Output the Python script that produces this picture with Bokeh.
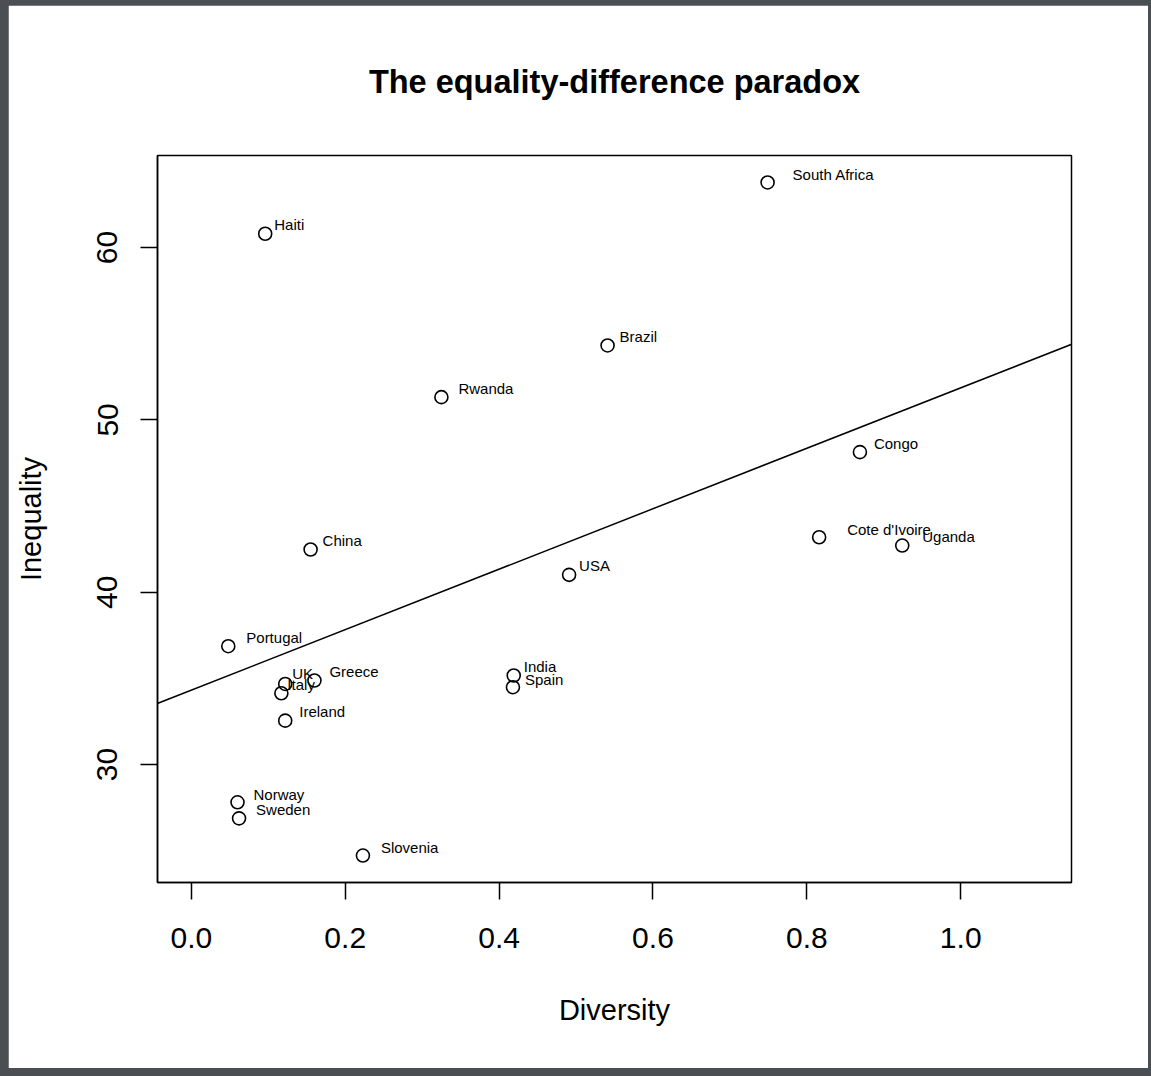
import numpy as np
from bokeh.plotting import figure
from bokeh.models import (ColumnDataSource, FixedTicker, PrintfTickFormatter,
                          Slope, Title)
from bokeh.core.properties import value
from bokeh.embed import file_html
from bokeh.resources import INLINE

# ---- data ----
countries = ["South Africa", "Haiti", "Brazil", "Rwanda", "Congo",
             "Cote d'Ivoire", "Uganda", "USA", "China", "Portugal",
             "UK", "Greece", "Italy", "Ireland", "India", "Spain",
             "Norway", "Sweden", "Slovenia"]
diversity = [0.749, 0.096, 0.541, 0.325, 0.869,
             0.816, 0.924, 0.491, 0.155, 0.048,
             0.122, 0.160, 0.117, 0.122, 0.419, 0.418,
             0.060, 0.062, 0.223]
inequality = [63.78, 60.80, 54.32, 51.32, 48.13,
              43.19, 42.71, 41.01, 42.48, 36.87,
              34.68, 34.88, 34.14, 32.55, 35.17, 34.49,
              27.81, 26.88, 24.72]
x_ticks = [0.0, 0.2, 0.4, 0.6, 0.8, 1.0]
y_ticks = [30, 40, 50, 60]

# label placement (screen pixel offsets, style only)
label_dx = [25, 9, 12, 17, 14, 28, 20, 10, 12, 18, 7, 15, 6, 14, 10, 12, 16, 17, 18]
label_dy = [-8, -9, -9, -9, -9, -8, -9, -9, -9, -9, -10, -9, -9, -9, -9, -8, -8, -9, -8]

# ---- ranges like R (xlim = c(0, 1.1), 4% expansion) ----
xlim = (0.0, 1.1)
xpad = 0.04 * (xlim[1] - xlim[0])
ymin, ymax = min(inequality), max(inequality)
ypad = 0.04 * (ymax - ymin)

# OLS fit
b, a = np.polyfit(np.array(diversity), np.array(inequality), 1)

FONT = "Liberation Sans"

p = figure(width=1140, height=1063,
           x_range=(xlim[0] - xpad, xlim[1] + xpad),
           y_range=(ymin - ypad, ymax + ypad),
           output_backend="svg", toolbar_location=None,
           min_border_left=149, min_border_right=77,
           min_border_top=150, min_border_bottom=186,
           background_fill_color="white", border_fill_color="white")

p.title = Title(text="The equality-difference paradox", align="center",
                text_font=FONT, text_font_size="32.5px", text_font_style="bold",
                text_color="black", standoff=112)

p.grid.visible = False
p.outline_line_color = "black"
p.outline_line_width = 1.5
p.outline_line_alpha = 1.0

for ax in (p.xaxis, p.yaxis):
    ax.major_tick_out = 17
    ax.major_tick_in = 0
    ax.minor_tick_out = 0
    ax.minor_tick_in = 0
    ax.major_tick_line_width = 1.5
    ax.major_tick_line_color = "black"
    ax.axis_line_color = "black"
    ax.axis_line_width = 1.5
    ax.major_label_text_font = FONT
    ax.major_label_text_font_size = "30px"
    ax.major_label_text_color = "black"
    ax.axis_label_text_font = FONT
    ax.axis_label_text_font_size = "29px"
    ax.axis_label_text_font_style = "normal"
    ax.axis_label_text_color = "black"

p.xaxis.ticker = FixedTicker(ticks=x_ticks)
p.xaxis.formatter = PrintfTickFormatter(format="%.1f")
p.xaxis.major_label_standoff = 28
p.xaxis.axis_label = "Diversity"
p.xaxis.axis_label_standoff = 43

p.yaxis.ticker = FixedTicker(ticks=y_ticks)
p.yaxis.formatter = PrintfTickFormatter(format="%d")
p.yaxis.major_label_orientation = "vertical"
p.yaxis.major_label_standoff = 23
p.yaxis.axis_label = "Inequality"
p.yaxis.axis_label_standoff = 48

src = ColumnDataSource(dict(x=diversity, y=inequality, name=countries,
                            dx=label_dx, dy=label_dy))

p.add_layout(Slope(gradient=float(b), y_intercept=float(a),
                   line_color="black", line_width=1.5))

p.scatter("x", "y", source=src, marker="circle", size=13,
          fill_color=None, line_color="black", line_width=1.6)

p.text("x", "y", text="name", source=src, x_offset="dx", y_offset="dy",
       text_font=value(FONT), text_font_size="15px", text_color="black",
       text_align="left", text_baseline="middle")

html = file_html(p, INLINE)
html = html.replace(
    "</head>",
    "<style>html,body{background:#4b4e53 !important;margin:0 !important;}"
    "body{padding:5px 0 0 8px !important;}</style></head>", 1)
open("out.html", "w").write(html)
